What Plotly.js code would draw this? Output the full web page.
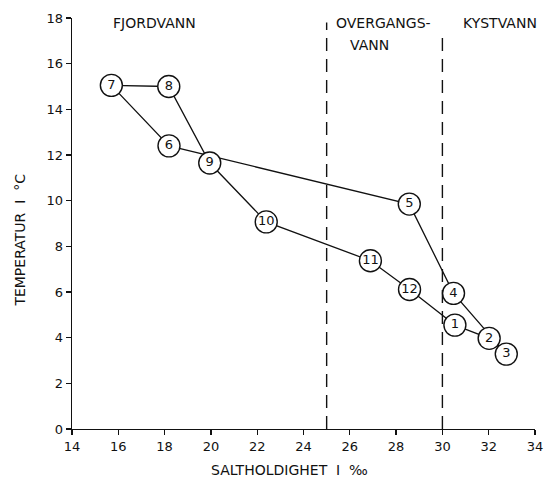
<!DOCTYPE html>
<html>
<head>
<meta charset="utf-8">
<script src="https://cdn.plot.ly/plotly-3.0.1.min.js"></script>
<style>html,body{margin:0;padding:0;background:#fff;}#chart{width:550px;height:482px;}</style>
</head>
<body>
<div id="chart"></div>
<script>
// Data
var stationLabels = ['1','2','3','4','5','6','7','8','9','10','11','12'];
var salinity = [30.54, 32.02, 32.76, 30.48, 28.57, 18.19, 15.7, 18.18, 19.95, 22.39, 26.89, 28.58];
var temperature = [4.55, 3.97, 3.28, 5.94, 9.85, 12.4, 15.05, 15.0, 11.65, 9.07, 7.37, 6.11];
var zoneBounds = [25, 30];
var zoneNames = ['FJORDVANN', 'OVERGANGS-', 'VANN', 'KYSTVANN'];
var xTicks = [14, 16, 18, 20, 22, 24, 26, 28, 30, 32, 34];
var yTicks = [0, 2, 4, 6, 8, 10, 12, 14, 16, 18];

var FONT = 'DejaVu Sans, Liberation Sans, sans-serif';

var loopX = salinity.concat([salinity[0]]);
var loopY = temperature.concat([temperature[0]]);

var traces = [
  {x: loopX, y: loopY, mode: 'lines', type: 'scatter',
   line: {color: '#111', width: 1.3}, hoverinfo: 'skip', showlegend: false},
  {x: salinity, y: temperature, mode: 'markers+text', type: 'scatter',
   text: stationLabels, textposition: 'middle center',
   textfont: {family: FONT, size: 13, color: '#111'},
   marker: {symbol: 'circle', size: 22, color: '#fff', line: {color: '#111', width: 1.4}},
   showlegend: false}
];

var labFont = {family: FONT, size: 14, color: '#111'};

var layout = {
  width: 550, height: 482,
  margin: {l: 72, r: 15, t: 18, b: 53},
  paper_bgcolor: '#fff', plot_bgcolor: '#fff',
  font: {family: FONT, color: '#111', size: 12},
  showlegend: false,
  xaxis: {range: [14, 34], tickvals: xTicks, ticktext: xTicks.map(String),
    showgrid: false, zeroline: false, showline: true, linecolor: '#111', linewidth: 1.4,
    ticks: 'outside', ticklen: 5, tickcolor: '#111', tickwidth: 1.3,
    tickfont: {family: FONT, size: 13, color: '#111'}},
  yaxis: {range: [0, 18], tickvals: yTicks, ticktext: yTicks.map(String),
    showgrid: false, zeroline: false, showline: true, linecolor: '#111', linewidth: 1.4,
    ticks: 'outside', ticklen: 5, tickcolor: '#111', tickwidth: 1.3,
    tickfont: {family: FONT, size: 13, color: '#111'}},
  shapes: [
    {type: 'line', xref: 'x', yref: 'y', x0: zoneBounds[0], x1: zoneBounds[0], y0: 0, y1: 17.8,
     line: {color: '#111', width: 1.4, dash: '13px,8px'}},
    {type: 'line', xref: 'x', yref: 'y', x0: zoneBounds[1], x1: zoneBounds[1], y0: 0, y1: 17.4,
     line: {color: '#111', width: 1.4, dash: '13px,8px'}}
  ],
  annotations: [
    {xref: 'x', yref: 'y', x: 17.58, y: 17.8, text: zoneNames[0], showarrow: false,
     xanchor: 'center', yanchor: 'middle', font: labFont},
    {xref: 'x', yref: 'y', x: 25.3, y: 17.8, text: zoneNames[1], showarrow: false,
     xanchor: 'left', yanchor: 'middle', font: labFont},
    {xref: 'x', yref: 'y', x: 25.92, y: 16.8, text: zoneNames[2], showarrow: false,
     xanchor: 'left', yanchor: 'middle', font: labFont},
    {xref: 'x', yref: 'y', x: 30.8, y: 17.8, text: zoneNames[3], showarrow: false,
     xanchor: 'left', yanchor: 'middle', font: labFont},
    {xref: 'paper', yref: 'paper', x: 0.47, y: -0.1, text: 'SALTHOLDIGHET  I  ‰', showarrow: false,
     xanchor: 'center', yanchor: 'middle', font: labFont},
    {xref: 'paper', yref: 'paper', x: -0.113, y: 0.46, text: 'TEMPERATUR  I  °C', showarrow: false,
     textangle: -90, xanchor: 'center', yanchor: 'middle', font: labFont}
  ]
};

Plotly.newPlot('chart', traces, layout, {displayModeBar: false, staticPlot: true});
</script>
</body>
</html>
